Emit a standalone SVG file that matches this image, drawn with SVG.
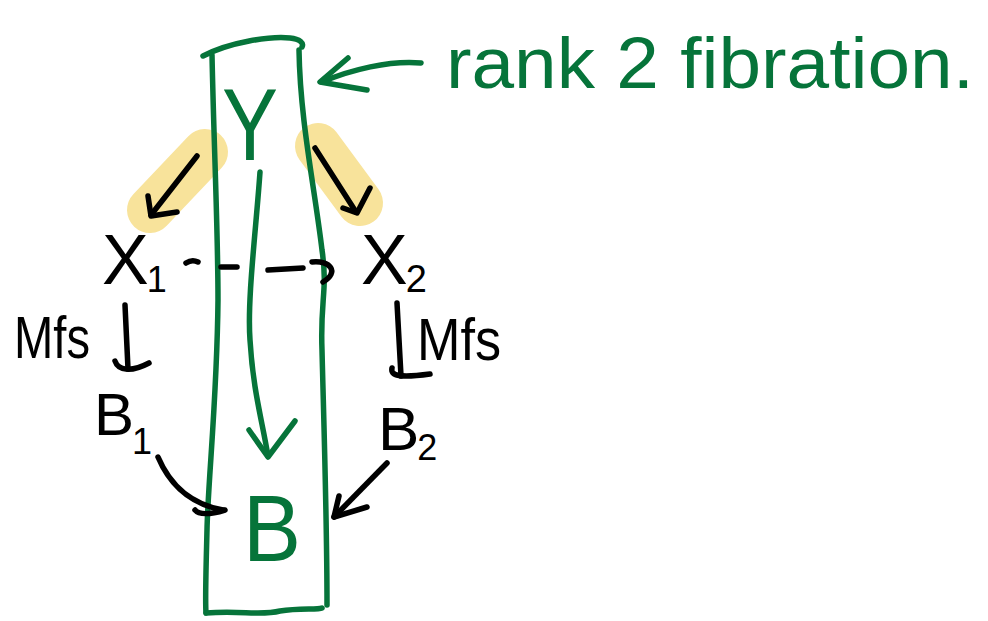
<svg xmlns="http://www.w3.org/2000/svg" width="988" height="621" viewBox="0 0 988 621">
<defs>
<style>
.g{fill:none;stroke:#06743a;stroke-width:5.5;stroke-linecap:round;stroke-linejoin:round}
.k{fill:none;stroke:#000;stroke-width:5.5;stroke-linecap:round;stroke-linejoin:round}
.hl{fill:none;stroke:#f8e39b;stroke-width:46;stroke-linecap:round}
.tk{font-family:"Liberation Sans",Arial,sans-serif;fill:#000}
.tg{font-family:"Liberation Sans",Arial,sans-serif;fill:#06743a}
</style>
</defs>
<rect width="988" height="621" fill="#fff"/>
<g id="highlights">
<path class="hl" d="M205,152 L150,210"/>
<path class="hl" d="M318,146 L360,203"/>
</g>
<g id="fibration-column">
<path class="g" d="M203,56 C230,42 270,36 290,38 C300,39 304,43 302,47"/>
<path class="g" d="M212,55 C214,150 218,230 218,300 C217,400 208,480 207,530 C206,570 205,600 206,613"/>
<path class="g" d="M206,613 C240,610 260,616 280,611 C300,608 318,610 322,608"/>
<path class="g" d="M299,50 C300,120 315,190 322,250 C328,290 320,300 322,350 C324,430 327,520 327,605"/>
</g>
<g id="connectors">
<path class="k" d="M197,156 L151,215"/>
<path class="k" d="M148,196 L151,216 L177,212"/>
<path class="k" d="M315,148 L356,212"/>
<path class="k" d="M343,208 L357,213 L370,188"/>
<path class="k" d="M186,263 Q192,259 198,262"/>
<path class="k" d="M221,267 L237,267"/>
<path class="k" d="M268,270 L303,268"/>
<path class="k" d="M312,262 C330,260 340,272 323,282"/>
<path class="k" d="M125,305 L128,369"/>
<path class="k" d="M115,361 C118,370 130,373 149,363"/>
<path class="k" d="M397,303 L401,376"/>
<path class="k" d="M392,368 C390,376 400,378 430,374"/>
<path class="k" d="M158,457 C172,490 195,505 223,510"/>
<path class="k" d="M195,510 C200,516 212,514 225,510"/>
<path class="k" d="M387,463 L334,517"/>
<path class="k" d="M339,496 L334,517 L367,507"/>
<path class="g" d="M260,172 C256,230 247,300 250,340 C253,390 262,420 268,456"/>
<path class="g" d="M249,430 L268,457 L295,421"/>
<path class="g" d="M421,63 C390,60 350,70 322,82"/>
<path class="g" d="M348,58 L320,82 L367,90"/>
</g>
<g id="node-Y"><text class="tg" x="222" y="160" font-size="102" textLength="56" lengthAdjust="spacingAndGlyphs">Y</text></g>
<g id="node-X1"><text class="tk" x="102" y="284" font-size="70">X<tspan dx="-2" dy="8" font-size="36">1</tspan></text></g>
<g id="node-X2"><text class="tk" x="361" y="284" font-size="70">X<tspan dx="-2" dy="8" font-size="38">2</tspan></text></g>
<g id="label-mfs-left"><text class="tk" x="14" y="358" font-size="60" textLength="76" lengthAdjust="spacingAndGlyphs">Mfs</text></g>
<g id="label-mfs-right"><text class="tk" x="417" y="360" font-size="60" textLength="84" lengthAdjust="spacingAndGlyphs">Mfs</text></g>
<g id="node-B1"><text class="tk" x="94" y="435" font-size="60">B<tspan dx="-2" dy="19" font-size="36">1</tspan></text></g>
<g id="node-B2"><text class="tk" x="378" y="450" font-size="62">B<tspan dx="-2" dy="10" font-size="36">2</tspan></text></g>
<g id="node-B"><text class="tg" x="243" y="561" font-size="95" textLength="58" lengthAdjust="spacingAndGlyphs">B</text></g>
<g id="label-rank"><text class="tg" x="446" y="88" font-size="72" textLength="528" lengthAdjust="spacingAndGlyphs">rank 2 fibration.</text></g>
</svg>
